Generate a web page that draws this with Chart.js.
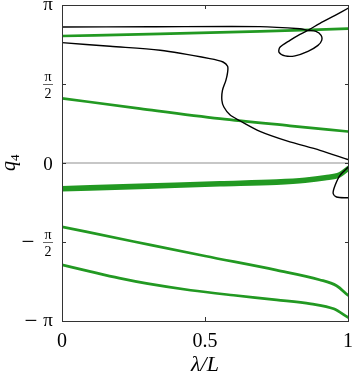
<!DOCTYPE html>
<html><head><meta charset="utf-8">
<script src="https://cdn.jsdelivr.net/npm/chart.js@4/dist/chart.umd.min.js"></script>
<style>html,body{margin:0;padding:0;background:#fff;}canvas{display:block;}</style>
</head><body>
<canvas id="c" width="353" height="382"></canvas>
<script>
const PI = Math.PI;
const xTickValues = [0, 0.5, 1];
const xTickLabels = ['0', '0.5', '1'];
const yTickValues = [-PI, -PI / 2, 0, PI / 2, PI];
const yTickLabels = ['−π', '−π/2', '0', 'π/2', 'π'];
const xAxisTitle = 'λ/L';
const yAxisTitleMain = 'q';
const yAxisTitleSub = '4';

// black branch A (top, with loop)
const blackA_x = [0, 0.308, 0.692, 0.832, 0.860, 0.888, 0.906, 0.908, 0.895, 0.860, 0.815, 0.780, 0.759, 0.762, 0.797, 0.832, 0.860, 0.902, 0.955, 1.0];
const blackA_y = [2.704, 2.708, 2.712, 2.668, 2.638, 2.618, 2.539, 2.439, 2.339, 2.219, 2.131, 2.131, 2.201, 2.300, 2.439, 2.559, 2.638, 2.777, 2.936, 3.076];
// black branch B (S-shaped)
const blackB_x = [0, 0.168, 0.343, 0.517, 0.563, 0.579, 0.579, 0.573, 0.561, 0.559, 0.566, 0.587, 0.622, 0.692, 0.786, 0.902, 1.0];
const blackB_y = [2.394, 2.320, 2.241, 2.076, 2.008, 1.922, 1.803, 1.644, 1.445, 1.247, 1.113, 0.958, 0.840, 0.630, 0.441, 0.252, 0.068];
// black branch C (small arc at right)
const blackC_x = [1.0, 0.972, 0.955, 0.948, 0.960, 1.0];
const blackC_y = [-0.085, -0.245, -0.443, -0.602, -0.676, -0.692];

// green branches
const green1_x = [0, 0.343, 0.692, 1.0];
const green1_y = [2.525, 2.567, 2.618, 2.672];
const green2_x = [0, 0.273, 0.552, 0.797, 1.0];
const green2_y = [1.286, 1.082, 0.883, 0.740, 0.626];
const green3a_x = [0, 0.3, 0.552, 0.75, 0.85, 0.92, 0.97, 1.0];
const green3a_y = [-0.489, -0.435, -0.389, -0.356, -0.320, -0.270, -0.211, -0.088];
const green3b_x = [0, 0.3, 0.552, 0.75, 0.85, 0.92, 0.97, 1.0];
const green3b_y = [-0.537, -0.483, -0.437, -0.404, -0.368, -0.318, -0.259, -0.135];
const green4_x = [0, 0.25, 0.5, 0.75, 0.9, 0.96, 1.0];
const green4_y = [-1.268, -1.56, -1.85, -2.13, -2.32, -2.44, -2.63];
const green5_x = [0, 0.1, 0.2, 0.3, 0.45, 0.6, 0.75, 0.87, 0.95, 1.0];
const green5_y = [-2.024, -2.16, -2.29, -2.40, -2.53, -2.63, -2.72, -2.80, -2.90, -3.07];

// zero reference line
const zero_x = [0, 1];
const zero_y = [0, 0];

const BLACK = '#000000';
const GREEN = 'rgb(34,153,34)';
const SERIF = '"Liberation Serif", "DejaVu Serif", serif';

function pts(xs, ys) { return xs.map((x, i) => ({ x: x, y: ys[i] })); }
function ds(xs, ys, color, width, order, mono) {
  const d = { data: pts(xs, ys), borderColor: color, borderWidth: width, showLine: true,
    pointRadius: 0, fill: false, order: order, borderCapStyle: 'round', borderJoinStyle: 'round' };
  if (mono) { d.cubicInterpolationMode = 'monotone'; } else { d.tension = 0.3; }
  return d;
}

const datasets = [
  ds(zero_x, zero_y, '#b4b4b4', 1.5, 5, true),
  ds(green1_x, green1_y, GREEN, 2.7, 2, true),
  ds(green2_x, green2_y, GREEN, 2.7, 2, true),
  ds(green3a_x, green3a_y, GREEN, 3.2, 2, true),
  ds(green3b_x, green3b_y, GREEN, 3.2, 2, true),
  ds(green4_x, green4_y, GREEN, 2.7, 2, true),
  ds(green5_x, green5_y, GREEN, 2.7, 2, true),
  ds(blackA_x, blackA_y, BLACK, 1.4, 1, false),
  ds(blackB_x, blackB_y, BLACK, 1.4, 1, false),
  ds(blackC_x, blackC_y, BLACK, 1.4, 1, false)
];

function drawYLabel(ctx, label, cx, cy) {
  let neg = label.startsWith('−');
  let body = neg ? label.slice(1) : label;
  ctx.textAlign = 'center';
  ctx.textBaseline = 'alphabetic';
  ctx.fillStyle = '#000';
  if (body.includes('/')) {
    const parts = body.split('/');
    ctx.font = '14px ' + SERIF;
    ctx.fillText(parts[0], cx, cy - 3);
    ctx.fillText(parts[1], cx, cy + 14);
    ctx.strokeStyle = '#000'; ctx.lineWidth = 0.6;
    ctx.beginPath(); ctx.moveTo(cx - 5, cy + 0.5); ctx.lineTo(cx + 5, cy + 0.5); ctx.stroke();
    if (neg) { ctx.font = '23px ' + SERIF; ctx.fillText('−', cx - 20, cy + 7); }
  } else {
    ctx.font = '19px ' + SERIF;
    const off = (body === 'π') ? 4.5 : 6.5;
    ctx.fillText(body, cx, cy + off);
    if (neg) { ctx.font = '23px ' + SERIF; ctx.fillText('−', cx - 17, cy + 7); }
  }
}

const framePlugin = {
  id: 'frame',
  afterDatasetsDraw(chart) {
    const ctx = chart.ctx;
    const a = chart.chartArea;
    const xs = chart.scales.x, ys = chart.scales.y;
    ctx.save();
    ctx.strokeStyle = '#333';
    ctx.lineWidth = 1;
    ctx.strokeRect(a.left + 0.5, a.top + 0.5, a.right - a.left, a.bottom - a.top);
    ctx.beginPath();
    yTickValues.forEach(v => {
      const p = Math.round(ys.getPixelForValue(v)) + 0.5;
      ctx.moveTo(a.left, p); ctx.lineTo(a.left + 4, p);
      ctx.moveTo(a.right + 1, p); ctx.lineTo(a.right - 3, p);
    });
    xTickValues.forEach(v => {
      const p = Math.round(xs.getPixelForValue(v)) + 0.5;
      ctx.moveTo(p, a.bottom); ctx.lineTo(p, a.bottom - 4);
      ctx.moveTo(p, a.top); ctx.lineTo(p, a.top + 4);
    });
    ctx.stroke();
    // y tick labels
    yTickValues.forEach((v, i) => drawYLabel(ctx, yTickLabels[i], 48, ys.getPixelForValue(v)));
    // x tick labels
    ctx.font = '20px ' + SERIF;
    ctx.textAlign = 'center';
    ctx.textBaseline = 'alphabetic';
    ctx.fillStyle = '#000';
    xTickValues.forEach((v, i) => ctx.fillText(xTickLabels[i], xs.getPixelForValue(v), a.bottom + 26));
    // x title
    ctx.font = 'italic 22px ' + SERIF;
    ctx.fillText(xAxisTitle, (a.left + a.right) / 2, a.bottom + 50);
    // y title
    ctx.translate(15, (a.top + a.bottom) / 2);
    ctx.rotate(-Math.PI / 2);
    ctx.font = 'italic 20px ' + SERIF;
    ctx.textAlign = 'left';
    const w = ctx.measureText(yAxisTitleMain).width;
    ctx.fillText(yAxisTitleMain, -8, 0);
    ctx.font = '13px ' + SERIF;
    ctx.fillText(yAxisTitleSub, -8 + w, 4);
    ctx.restore();
  }
};

new Chart(document.getElementById('c'), {
  type: 'scatter',
  data: { datasets: datasets },
  options: {
    responsive: false,
    animation: false,
    devicePixelRatio: 1,
    layout: { padding: { top: 5, right: 5, left: 0, bottom: 0 } },
    plugins: { legend: { display: false }, tooltip: { enabled: false } },
    scales: {
      x: { type: 'linear', min: 0, max: 1,
        ticks: { display: false }, grid: { display: false }, border: { display: false },
        afterFit(s) { s.height = 61; } },
      y: { type: 'linear', min: -PI, max: PI,
        ticks: { display: false }, grid: { display: false }, border: { display: false },
        afterFit(s) { s.width = 62; } }
    }
  },
  plugins: [framePlugin]
});
</script>
</body></html>
